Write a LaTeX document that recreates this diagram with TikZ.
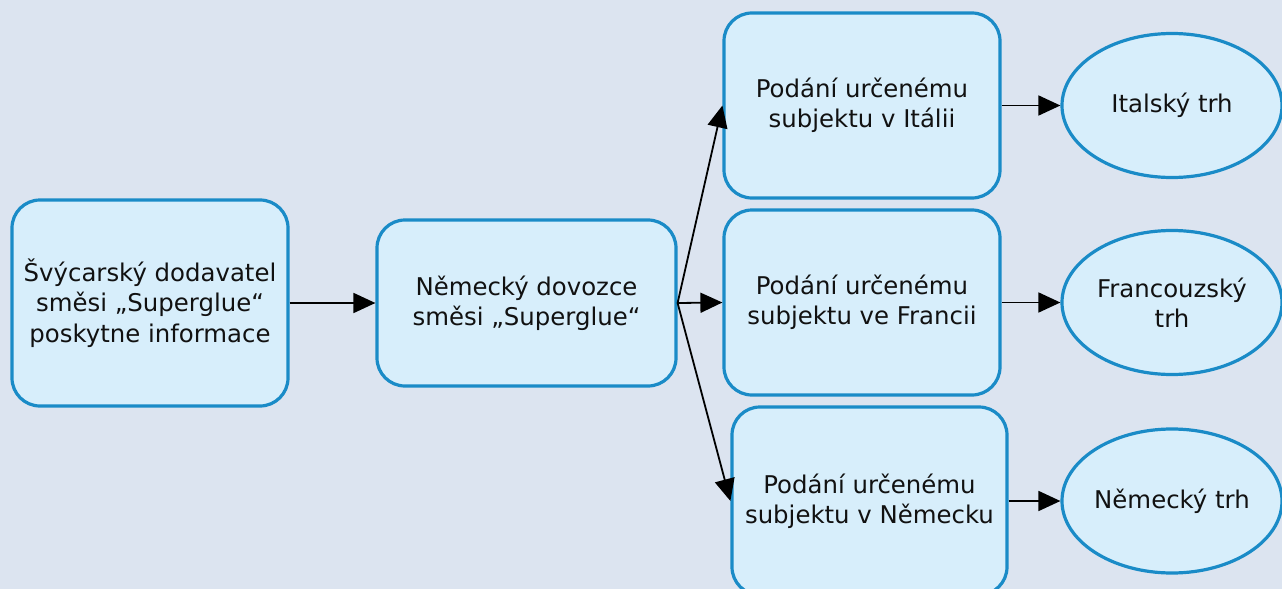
\documentclass[tikz,border=0pt]{standalone}
\usepackage{fontspec}
\setmainfont{DejaVu Sans}
\usetikzlibrary{arrows.meta,shapes.geometric}
\definecolor{bgcol}{HTML}{DCE4F0}
\definecolor{boxfill}{HTML}{D7EEFB}
\definecolor{boxline}{HTML}{1A8BC7}
\definecolor{txt}{HTML}{111111}
\begin{document}
\begin{tikzpicture}[x=0.5pt,y=-0.5pt,
  stagebox/.style={draw=boxline, fill=boxfill, line width=1.6pt, rounded corners=14pt,
    align=center, inner sep=0pt, text=txt, font=\fontsize{12.2}{15.2}\selectfont},
  marketnode/.style={ellipse, draw=boxline, fill=boxfill, line width=1.6pt,
    align=center, inner sep=0pt, text=txt, font=\fontsize{12.2}{15.2}\selectfont,
    minimum width=110pt, minimum height=72pt},
  flow/.style={line width=0.9pt, draw=black, -{Triangle[length=11pt,width=10pt]}}]
\fill[bgcol] (0,0) rectangle (1282,589);
\useasboundingbox (0,0) rectangle (1282,589);

% supply chain boxes
\node[stagebox, minimum width=138pt, minimum height=103pt] (sup) at (150,303)
  {Švýcarský dodavatel\\směsi „Superglue“\\poskytne informace};
\node[stagebox, minimum width=149.5pt, minimum height=83pt] (imp) at (526.5,303)
  {Německý dovozce\\směsi „Superglue“};
\node[stagebox, minimum width=138pt, minimum height=92.5pt] (it) at (862,105.5)
  {Podání určenému\\subjektu v Itálii};
\node[stagebox, minimum width=138pt, minimum height=92.5pt] (fr) at (862,302.5)
  {Podání určenému\\subjektu ve Francii};
\node[stagebox, minimum width=137.5pt, minimum height=94pt] (de) at (869.5,501)
  {Podání určenému\\subjektu v Německu};

% markets
\node[marketnode] (mit) at (1172,105.5) {Italský trh};
\node[marketnode] (mfr) at (1172,302.5) {Francouzský\\trh};
\node[marketnode] (mde) at (1172,501) {Německý trh};

% connectors
\draw[flow] (sup.east) -- (imp.west);
\draw[flow] (imp.east) -- (it.west);
\draw[flow] (imp.east) -- (fr.west);
\draw[flow] (imp.east) -- (de.west);
\draw[flow] (it.east) -- (mit.west);
\draw[flow] (fr.east) -- (mfr.west);
\draw[flow] (de.east) -- (mde.west);
\end{tikzpicture}
\end{document}
